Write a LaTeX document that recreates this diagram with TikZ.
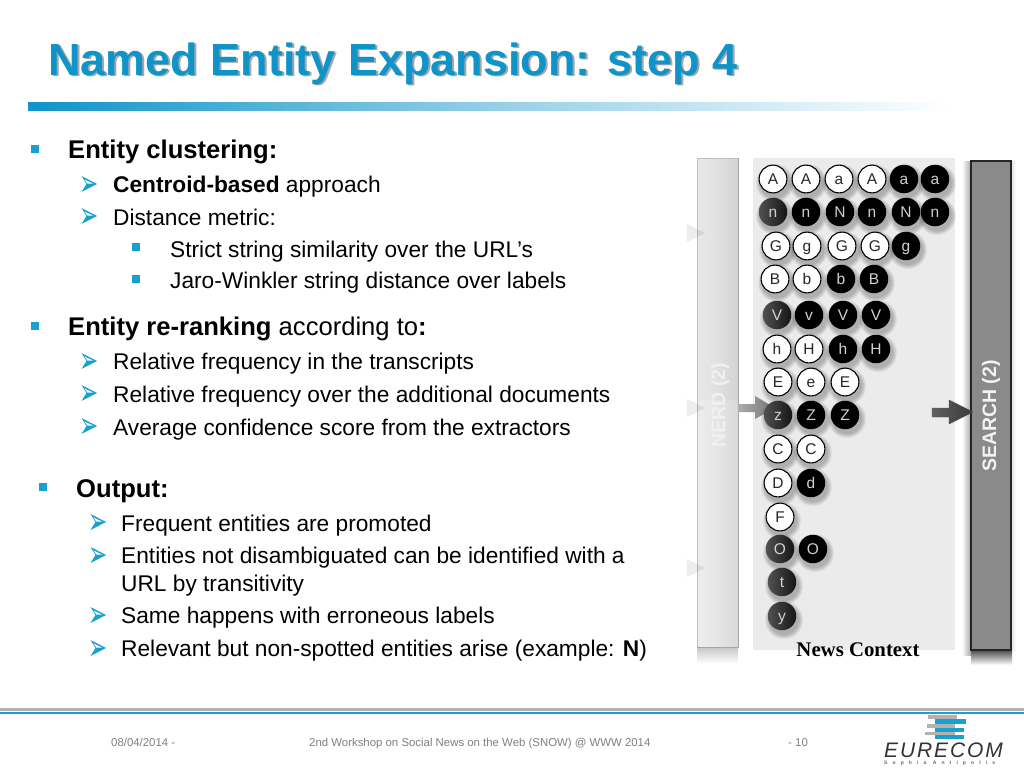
\documentclass[tikz,border=0pt]{standalone}
\usepackage{fontspec}
\setmainfont{Liberation Sans}
\newfontfamily\newsfont{Liberation Serif}
\usetikzlibrary{shadings,fadings}
\definecolor{eblue}{HTML}{0F94C9}
\definecolor{bcol}{HTML}{1AA0D0}
\definecolor{ftgray}{HTML}{808080}
\tikzset{
  x=1pt,y=-1pt,
  lv1/.style={anchor=base west,inner sep=0pt,font=\fontsize{25.6}{27}\selectfont,text=black},
  lv2/.style={anchor=base west,inner sep=0pt,font=\fontsize{22.7}{24}\selectfont,text=black},
  lv3/.style={anchor=base west,inner sep=0pt,font=\fontsize{22.7}{24}\selectfont,text=black},
  foot/.style={anchor=base west,inner sep=0pt,font=\fontsize{11.4}{12}\selectfont,text=ftgray},
  circ/.style={circle,minimum size=28.5pt,inner sep=0pt,text height=11.1pt,text depth=0pt,font=\fontsize{15.5}{16}\selectfont},
  whitec/.style={circ,draw=black,line width=1.1pt,fill=white,text=black!85,minimum size=27.8pt},
  blackc/.style={circ,fill=black,text=white!82!black},
  greyc/.style={circ,left color=black!68,right color=black!92,text=white!82!black},
  sq/.style={fill=bcol,minimum size=8pt,inner sep=0pt,draw=none},
  barlabel/.style={rotate=90,inner sep=0pt,font=\bfseries\fontsize{19.5}{20}\selectfont},
}
\newcommand{\subbul}[1]{%
  \fill[bcol,shift={(#1)}] (-6.5,-8) -- (9,0) -- (-6.5,8) -- (-1.5,0) -- cycle;
  \fill[white,shift={(#1)}] (-3.5,-4.6) -- (5,-0.4) -- (-0.6,-0.4) -- cycle;
}
\newcommand{\ent}[5]{%
  \foreach \r in {19,18,17,16,15}{\fill[black,opacity=0.055] (#1+2,#2+4) circle (\r);}
  \node[#3] (#4) at (#1,#2) {#5};
}
\begin{document}
\begin{tikzpicture}
\useasboundingbox (0,0) rectangle (1024,768);
\fill[white] (0,0) rectangle (1024,768);

% title
\node[anchor=base west,inner sep=0pt,text=black!35,font=\bfseries\fontsize{45}{47}\selectfont] (titleshadow) at (50,77) {Named Entity Expansion: step 4};
\node[anchor=base west,inner sep=0pt,text=eblue,font=\bfseries\fontsize{45}{47}\selectfont] (title) at (48,75) {Named Entity Expansion: step 4};
\shade[left color=eblue,right color=white,middle color=eblue!45!white] (28,102) rectangle (950,110);

% text
\node[sq] (b1) at (35,149) {};
\node[lv1] (t1) at (68,158) {\bfseries Entity clustering:};
\subbul{88,184}
\node[lv2] (t2) at (113,192) {\textbf{Centroid-based} approach};
\subbul{88,216}
\node[lv2] (t3) at (113,225) {Distance metric:};
\node[sq] (b2) at (136,247) {};
\node[lv3] (t4) at (170,257) {Strict string similarity over the URL’s};
\node[sq] (b3) at (136,279) {};
\node[lv3] (t5) at (170,288) {Jaro-Winkler string distance over labels};
\node[sq] (b4) at (35,326) {};
\node[lv1] (t6) at (68,335) {\textbf{Entity re-ranking} according to\textbf{:}};
\subbul{88,361}
\node[lv2] (t7) at (113,369) {Relative frequency in the transcripts};
\subbul{88,393}
\node[lv2] (t8) at (113,402) {Relative frequency over the additional documents};
\subbul{88,426}
\node[lv2] (t9) at (113,435) {Average confidence score from the extractors};
\node[sq] (b5) at (43,487) {};
\node[lv1] (t10) at (76,497) {\bfseries Output:};
\subbul{97,522}
\node[lv2] (t11) at (121,531) {Frequent entities are promoted};
\subbul{97,555}
\node[lv2] (t12) at (121,563) {Entities not disambiguated can be identified with a};
\node[lv2] (t13) at (121,591) {URL by transitivity};
\subbul{97,615}
\node[lv2] (t14) at (121,623) {Same happens with erroneous labels};
\subbul{97,648}
\node[lv2] (t15) at (121,656) {Relevant but non-spotted entities arise (example: \textbf{N})};

% figure
\fill[black!8] (753,158) rectangle (955,650);
\shade[top color=black!22,bottom color=white] (697,647) rectangle (738,664);
\shade[top color=black!70,bottom color=white] (971,650) rectangle (1012,665);
\shade[left color=white,right color=black!35] (962,161) rectangle (971,655);
\shade[left color=black!12,right color=white] (1011,161) rectangle (1016,650);
\shade[left color=black!9,right color=black!17,middle color=black!12] (697,158) rectangle (738,400);
\shade[left color=black!7,right color=black!15,middle color=black!10] (697,400) rectangle (738,647);
\draw[black!35,line width=1pt] (738,158) -- (738,647) -- (697,647);
\draw[black!25,line width=0.8pt] (697,647) -- (697,158) -- (738,158);
\draw[fill=black!46,draw=black!85,line width=1.2pt] (971,161) rectangle (1011,650);
\node[barlabel,text=white!94!black] (nerd) at (720,405) {NERD (2)};
\node[barlabel,text=white!95!black] (search) at (991,416) {SEARCH (2)};

\foreach \y in {233,408,568}{
  \fill[black,opacity=0.07] (687,\y-9) -- (705,\y) -- (687,\y+9) -- cycle;
}

\ent{773}{179}{whitec}{e1a}{A}
\ent{806}{179}{whitec}{e1b}{A}
\ent{839}{179}{whitec}{e1c}{a}
\ent{872}{179}{whitec}{e1d}{A}
\ent{904}{179}{blackc}{e1e}{a}
\ent{935}{179}{blackc}{e1f}{a}
\ent{773}{212}{greyc}{e2a}{n}
\ent{806}{212}{blackc}{e2b}{n}
\ent{840}{212}{blackc}{e2c}{N}
\ent{872}{212}{blackc}{e2d}{n}
\ent{906}{212}{blackc}{e2e}{N}
\ent{935}{212}{blackc}{e2f}{n}
\ent{776}{246}{whitec}{e3a}{G}
\ent{807}{246}{whitec}{e3b}{g}
\ent{842}{246}{whitec}{e3c}{G}
\ent{875}{246}{whitec}{e3d}{G}
\ent{906}{246}{blackc}{e3e}{g}
\ent{775}{279}{whitec}{e4a}{B}
\ent{807}{279}{whitec}{e4b}{b}
\ent{841}{279}{blackc}{e4c}{b}
\ent{874}{279}{blackc}{e4d}{B}
\ent{777}{315}{greyc}{e5a}{V}
\ent{809}{315}{blackc}{e5b}{v}
\ent{843}{315}{blackc}{e5c}{V}
\ent{876}{315}{blackc}{e5d}{V}
\ent{777}{349}{whitec}{e6a}{h}
\ent{809}{349}{whitec}{e6b}{H}
\ent{843}{349}{blackc}{e6c}{h}
\ent{876}{349}{blackc}{e6d}{H}
\ent{778}{382}{whitec}{e7a}{E}
\ent{811}{382}{whitec}{e7b}{e}
\ent{845}{382}{whitec}{e7c}{E}

% arrows
\shade[left color=black!32,right color=black!55] (738,404) -- (755,404) -- (755,396) -- (775,408) -- (755,419) -- (755,412) -- (738,412) -- cycle;
\shade[left color=black!62,right color=black!78,draw=black!70,line width=0.4pt] (932,408) -- (949,408) -- (949,400) -- (973,412) -- (949,424) -- (949,417) -- (932,417) -- cycle;

\ent{778}{415}{greyc}{e8a}{z}
\ent{811}{415}{blackc}{e8b}{Z}
\ent{845}{415}{blackc}{e8c}{Z}
\ent{778}{449}{whitec}{e9a}{C}
\ent{811}{449}{whitec}{e9b}{C}
\ent{778}{483}{whitec}{e10a}{D}
\ent{811}{483}{blackc}{e10b}{d}
\ent{780}{517}{whitec}{e11a}{F}
\ent{780}{549}{greyc}{e12a}{O}
\ent{813}{549}{blackc}{e12b}{O}
\ent{782}{582}{greyc}{e13a}{t}
\ent{782}{616}{greyc}{e14a}{y}

\node[anchor=center,inner sep=0pt,font=\newsfont\bfseries\fontsize{20.8}{22}\selectfont] (news) at (858,650) {News Context};

% footer
\fill[black!30] (0,708) rectangle (1024,710.5);
\fill[bcol] (0,711.5) rectangle (1024,714);
\node[foot] (f1) at (111,746) {08/04/2014 -};
\node[foot] (f2) at (309,746) {2nd Workshop on Social News on the Web (SNOW) @ WWW 2014};
\node[foot] (f3) at (788,746) {- 10};

% logo
\fill[black!30] (928,715) rectangle (957,719);
\fill[bcol] (935,719) rectangle (966,724);
\fill[black!30] (927,724) rectangle (955,728);
\fill[bcol] (935,728) rectangle (964,732);
\fill[black!30] (925,732) rectangle (955,735);
\fill[bcol] (935,735) rectangle (964,739);
\node[anchor=base west,inner sep=0pt,text=black!80,font=\itshape\fontsize{21}{22}\selectfont] (logo) at (884,757) {\addfontfeature{LetterSpace=9}EURECOM};
\node[anchor=base west,inner sep=0pt,text=black!60,font=\bfseries\fontsize{5}{6}\selectfont] (logo2) at (884,764) {\addfontfeature{LetterSpace=102}Sophia Antipolis};
\end{tikzpicture}
\end{document}
